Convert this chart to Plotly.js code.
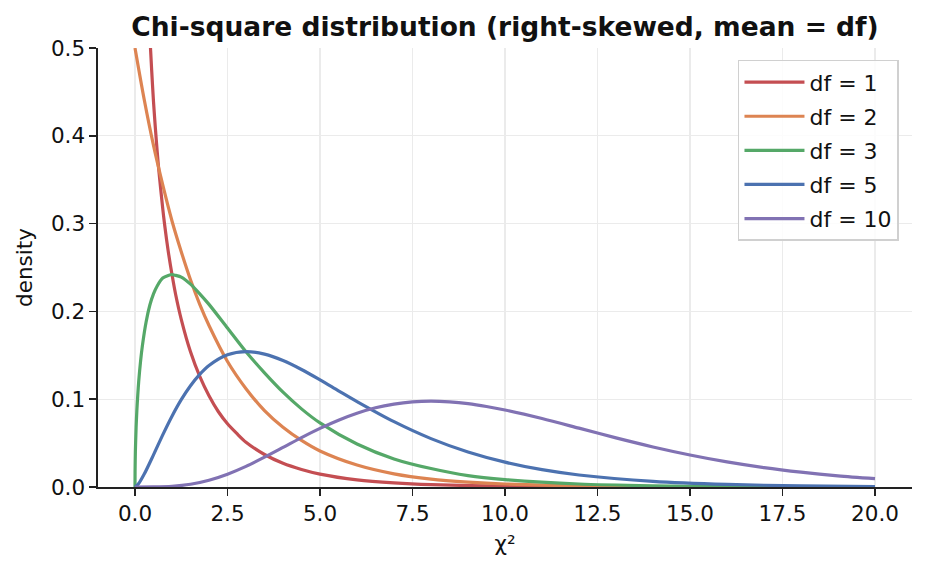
<!DOCTYPE html>
<html>
<head>
<meta charset="utf-8">
<script src="https://cdn.plot.ly/plotly-3.0.1.min.js"></script>
<style>
  html, body { margin: 0; padding: 0; background: #fff; }
  #chart { width: 926px; height: 571px; }
</style>
</head>
<body>
<div id="chart"></div>
<script>
// values
const seriesNames = ['df = 1', 'df = 2', 'df = 3', 'df = 5', 'df = 10'];
const seriesColors = ['#C44E52', '#DD8452', '#55A868', '#4C72B0', '#8172B3'];

const x1 = [0.25, 0.3, 0.35, 0.4, 0.45, 0.5, 0.55, 0.6, 0.65, 0.75, 0.8, 0.9, 1, 1.1, 1.25, 1.5, 1.75, 2, 2.25, 2.5, 2.75, 3, 3.5, 4, 4.5, 5, 6, 7, 8, 10, 12, 15, 20];
const y1 = [0.704, 0.627, 0.566, 0.516, 0.475, 0.439, 0.409, 0.382, 0.358, 0.317, 0.299, 0.268, 0.242, 0.219, 0.191, 0.154, 0.126, 0.104, 0.086, 0.072, 0.061, 0.051, 0.037, 0.027, 0.020, 0.0147, 0.0081, 0.0046, 0.0026, 0.0009, 0.0003, 0.0001, 0];

const x2 = [0, 0.25, 0.5, 0.75, 1, 1.25, 1.5, 1.75, 2, 2.5, 3, 3.5, 4, 4.5, 5, 6, 7, 8, 9, 10, 12, 14, 16, 20];
const y2 = [0.5, 0.441, 0.389, 0.344, 0.303, 0.268, 0.236, 0.208, 0.184, 0.143, 0.112, 0.087, 0.068, 0.053, 0.041, 0.025, 0.015, 0.009, 0.0056, 0.0034, 0.0012, 0.0005, 0.0002, 0];

const x3 = [0, 0.002, 0.01, 0.03, 0.05, 0.075, 0.1, 0.15, 0.2, 0.3, 0.4, 0.5, 0.6, 0.75, 0.9, 1, 1.1, 1.25, 1.5, 1.75, 2, 2.5, 3, 3.5, 4, 4.5, 5, 6, 7, 8, 9, 10, 12, 14, 16, 18, 20];
const y3 = [0, 0.018, 0.040, 0.068, 0.087, 0.105, 0.120, 0.143, 0.161, 0.188, 0.207, 0.220, 0.229, 0.238, 0.241, 0.242, 0.241, 0.239, 0.231, 0.220, 0.208, 0.181, 0.154, 0.130, 0.108, 0.089, 0.073, 0.049, 0.032, 0.021, 0.013, 0.0085, 0.0034, 0.0014, 0.0005, 0.0002, 0.0001];

const x5 = [0, 0.1, 0.25, 0.5, 0.75, 1, 1.25, 1.5, 1.75, 2, 2.5, 3, 3.5, 4, 4.5, 5, 5.5, 6, 7, 8, 9, 10, 11, 12, 14, 16, 18, 20];
const y5 = [0, 0.004, 0.0147, 0.0366, 0.0594, 0.0807, 0.0995, 0.1154, 0.1283, 0.1384, 0.1506, 0.1542, 0.1513, 0.144, 0.1338, 0.122, 0.1096, 0.0973, 0.0744, 0.0551, 0.0399, 0.0283, 0.0197, 0.0137, 0.0064, 0.0029, 0.0013, 0.0005];

const x10 = [0, 0.5, 1, 1.5, 2, 2.5, 3, 3.5, 4, 4.5, 5, 5.5, 6, 6.5, 7, 7.5, 8, 8.5, 9, 9.5, 10, 11, 12, 13, 14, 15, 16, 17, 18, 19, 20];
const y10 = [0, 0.0001, 0.0008, 0.0031, 0.0077, 0.0146, 0.0235, 0.034, 0.0451, 0.0563, 0.0668, 0.0761, 0.084, 0.0902, 0.0944, 0.0969, 0.0977, 0.0969, 0.0949, 0.0917, 0.0877, 0.078, 0.067, 0.0559, 0.0456, 0.0365, 0.0286, 0.0221, 0.0169, 0.0127, 0.0095];

const xs = [x1, x2, x3, x5, x10];
const ys = [y1, y2, y3, y5, y10];

const xTicks = [0, 2.5, 5, 7.5, 10, 12.5, 15, 17.5, 20];
const xTickText = ['0.0', '2.5', '5.0', '7.5', '10.0', '12.5', '15.0', '17.5', '20.0'];
const yTicks = [0, 0.1, 0.2, 0.3, 0.4, 0.5];
const yTickText = ['0.0', '0.1', '0.2', '0.3', '0.4', '0.5'];

const traces = seriesNames.map((name, i) => ({
  x: xs[i],
  y: ys[i],
  name: name,
  legendgroup: 'g' + i,
  type: 'scatter',
  mode: 'lines',
  line: { color: seriesColors[i], width: 3.2, shape: 'spline', smoothing: 0.8 }
}));

const font = { family: 'DejaVu Sans, sans-serif', size: 21.5, color: '#111' };

Plotly.newPlot('chart', traces, {
  width: 926,
  height: 571,
  margin: { l: 98, r: 14, t: 48, b: 84 },
  paper_bgcolor: '#fff',
  plot_bgcolor: '#fff',
  font: font,
  title: {
    text: '<b>Chi-square distribution (right-skewed, mean = df)</b>',
    font: { family: 'DejaVu Sans, sans-serif', size: 26.5, color: '#111' },
    xref: 'paper', x: 0.5, xanchor: 'center',
    yref: 'container', y: 0.953, yanchor: 'middle'
  },
  xaxis: {
    range: [-1, 21],
    tickvals: xTicks,
    ticktext: xTickText,
    ticks: 'outside', ticklen: 7, tickwidth: 1.5, tickcolor: '#222',
    showline: true, linecolor: '#222', linewidth: 1.6,
    showgrid: true, gridcolor: '#ebebeb', gridwidth: 1.2,
    zeroline: false,
    title: { text: 'χ²', font: font, standoff: 10 }
  },
  yaxis: {
    range: [0, 0.5],
    tickvals: yTicks,
    ticktext: yTickText,
    ticks: 'outside', ticklen: 7, tickwidth: 1.5, tickcolor: '#222',
    showline: true, linecolor: '#222', linewidth: 1.6,
    showgrid: true, gridcolor: '#ebebeb', gridwidth: 1.2,
    zeroline: false,
    title: { text: 'density', font: font, standoff: 12 }
  },
  legend: {
    x: 0.984, xanchor: 'right', y: 0.973, yanchor: 'top',
    bgcolor: 'rgba(255,255,255,0.85)',
    bordercolor: '#d0d0d0', borderwidth: 1.5,
    font: { family: 'DejaVu Sans, sans-serif', size: 22, color: '#111' },
    traceorder: 'grouped',
    tracegroupgap: 2.5,
    itemwidth: 60
  },
  showlegend: true
}, { displayModeBar: false, staticPlot: true });
</script>
</body>
</html>
